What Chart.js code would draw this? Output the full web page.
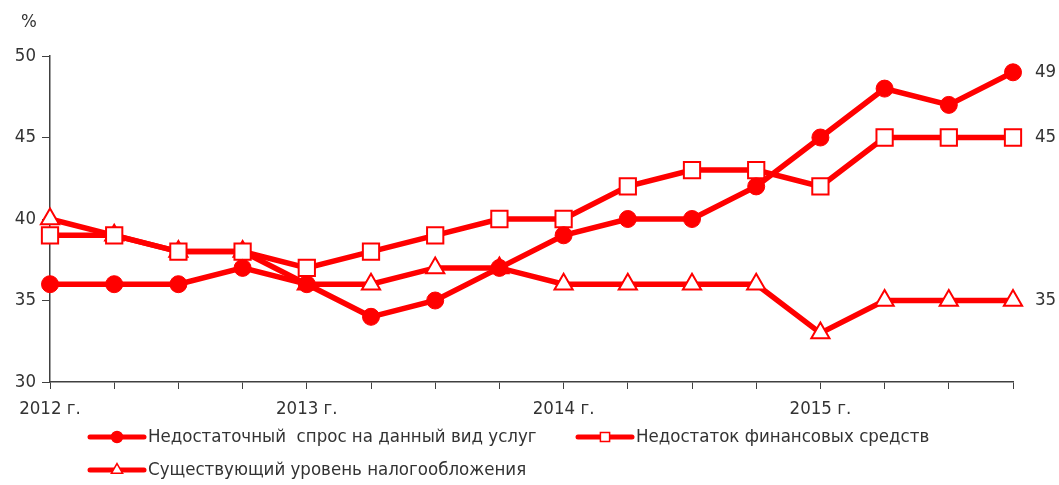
<!DOCTYPE html>
<html>
<head>
<meta charset="utf-8">
<script src="https://cdn.jsdelivr.net/npm/chart.js@4.4.1/dist/chart.umd.min.js"></script>
<style>
  html, body { margin: 0; padding: 0; background: #fff; }
  #wrap { width: 1059px; height: 485px; position: relative; }
</style>
</head>
<body>
<div id="wrap"><canvas id="chart"></canvas></div>
<script>
const quarters = ["2012 Q1", "2012 Q2", "2012 Q3", "2012 Q4",
  "2013 Q1", "2013 Q2", "2013 Q3", "2013 Q4",
  "2014 Q1", "2014 Q2", "2014 Q3", "2014 Q4",
  "2015 Q1", "2015 Q2", "2015 Q3", "2015 Q4"];
const yearLabels = ["2012 г.", "2013 г.", "2014 г.", "2015 г."];
const yTicks = [30, 35, 40, 45, 50];

const demand = [36, 36, 36, 37, 36, 34, 35, 37, 39, 40, 40, 42, 45, 48, 47, 49];
const finance = [39, 39, 38, 38, 37, 38, 39, 40, 40, 42, 43, 43, 42, 45, 45, 45];
const taxes = [40, 39, 38, 38, 36, 36, 37, 37, 36, 36, 36, 36, 33, 35, 35, 35];

const seriesNames = [
  "Недостаточный  спрос на данный вид услуг",
  "Недостаток финансовых средств",
  "Существующий уровень налогообложения"
];

const RED = "#ff0000";
const TEXT = "#333333";
const FONT = "'DejaVu Sans Condensed', 'DejaVu Sans', sans-serif";
const FSIZE = 18.5;

// legend: line with marker, then text
const legendPlugin = {
  id: "bottomLegend",
  afterDraw(chart) {
    const c = chart.ctx;
    const spots = [[90, 437], [578, 437], [90, 470]];
    chart.data.datasets.forEach((ds, i) => {
      const [x, y] = spots[i];
      c.save();
      c.strokeStyle = RED;
      c.lineWidth = 5;
      c.lineCap = "round";
      c.beginPath();
      c.moveTo(x, y);
      c.lineTo(x + 54, y);
      c.stroke();
      c.fillStyle = ds.pointBackgroundColor;
      c.strokeStyle = RED;
      c.lineWidth = 1.5;
      Chart.helpers.drawPoint(c, {
        pointStyle: ds.pointStyle,
        radius: ds.pointStyle === "circle" ? 5.5 : 6.5,
        rotation: 0,
        borderWidth: 1.5
      }, x + 27, y);
      c.fillStyle = TEXT;
      c.font = FSIZE + "px " + FONT;
      c.textBaseline = "middle";
      c.fillText(ds.label, x + 58, y);
      c.restore();
    });
  }
};

// values at the end of each line, plus the % sign
const endLabels = {
  id: "endLabels",
  afterDatasetsDraw(chart) {
    const c = chart.ctx;
    c.save();
    c.fillStyle = TEXT;
    c.font = FSIZE + "px " + FONT;
    c.textBaseline = "middle";
    chart.data.datasets.forEach((ds, i) => {
      const pts = chart.getDatasetMeta(i).data;
      const last = pts[pts.length - 1];
      c.fillText(ds.data[ds.data.length - 1], last.x + 22, last.y);
    });
    c.fillText("%", 21, 22);
    c.restore();
  }
};

new Chart(document.getElementById("chart"), {
  type: "line",
  data: {
    labels: quarters,
    datasets: [
      {
        label: seriesNames[0], data: demand,
        borderColor: RED, backgroundColor: RED, pointBackgroundColor: RED,
        borderWidth: 5.5, pointStyle: "circle", pointRadius: 8.5,
        pointBorderColor: RED, pointBorderWidth: 1
      },
      {
        label: seriesNames[1], data: finance,
        borderColor: RED, backgroundColor: "#fff", pointBackgroundColor: "#fff",
        borderWidth: 5.5, pointStyle: "rect", pointRadius: 11.5,
        pointBorderColor: RED, pointBorderWidth: 2
      },
      {
        label: seriesNames[2], data: taxes,
        borderColor: RED, backgroundColor: "#fff", pointBackgroundColor: "#fff",
        borderWidth: 5.5, pointStyle: "triangle", pointRadius: 10.5,
        pointBorderColor: RED, pointBorderWidth: 2
      }
    ]
  },
  options: {
    responsive: true,
    maintainAspectRatio: false,
    animation: false,
    layout: { padding: { left: 0, right: 46, top: 56, bottom: 63 } },
    plugins: { legend: { display: false }, tooltip: { enabled: false } },
    elements: { line: { tension: 0 } },
    scales: {
      x: {
        offset: false,
        grid: { drawOnChartArea: false, drawTicks: true, tickLength: 7, color: "#404040" },
        border: { display: true, color: "#404040", width: 1.5 },
        ticks: {
          autoSkip: false, maxRotation: 0, color: TEXT, padding: 9,
          font: { family: FONT, size: FSIZE },
          callback: (v, i) => (i % 4 === 0 ? yearLabels[i / 4] : "")
        },
        afterFit: (s) => { s.height = 40; }
      },
      y: {
        min: yTicks[0], max: yTicks[yTicks.length - 1],
        afterBuildTicks: (s) => { s.ticks = yTicks.map((v) => ({ value: v })); },
        grid: { drawOnChartArea: false, drawTicks: true, tickLength: 8, color: "#404040" },
        border: { display: true, color: "#404040", width: 1.5 },
        ticks: { color: TEXT, padding: 6, font: { family: FONT, size: FSIZE } },
        afterFit: (s) => { s.width = 50; }
      }
    }
  },
  plugins: [legendPlugin, endLabels]
});
</script>
</body>
</html>
